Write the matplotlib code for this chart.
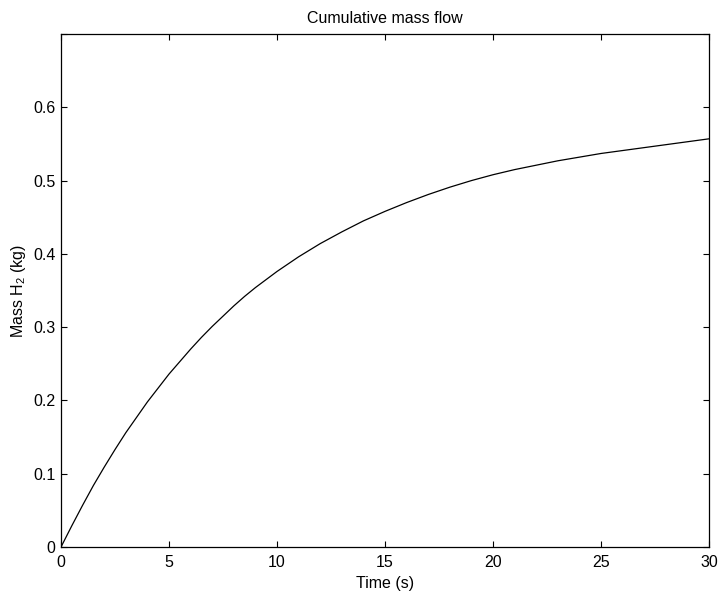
import matplotlib
matplotlib.use("Agg")
import matplotlib.pyplot as plt

# values (half-second steps where it bends most)
time_s = [
    0, 0.5, 1, 1.5, 2, 2.5, 3, 3.5, 4, 4.5, 5, 5.5, 6, 6.5, 7, 7.5, 8, 8.5,
    9, 9.5, 10, 11, 12, 13, 14, 15, 16, 17, 18, 19, 20, 21, 22, 23, 24, 25,
    26, 27, 28, 29, 30,
]
mass_kg = [
    0.000, 0.029, 0.057, 0.084, 0.109, 0.133, 0.156, 0.177, 0.198, 0.217,
    0.236, 0.253, 0.270, 0.286, 0.301, 0.315, 0.329, 0.342, 0.354, 0.365,
    0.376, 0.396, 0.414, 0.430, 0.445, 0.458, 0.470, 0.481, 0.491, 0.500,
    0.508, 0.515, 0.521, 0.527, 0.532, 0.537, 0.541, 0.545, 0.549, 0.553,
    0.557,
]
x_ticks = [0, 5, 10, 15, 20, 25, 30]
y_ticks = [0, 0.1, 0.2, 0.3, 0.4, 0.5, 0.6, 0.7]
y_tick_labels = ["0", "0.1", "0.2", "0.3", "0.4", "0.5", "0.6", ""]

plt.rcParams["font.family"] = ["Liberation Sans", "DejaVu Sans"]
plt.rcParams["font.size"] = 11.5
plt.rcParams["mathtext.fontset"] = "custom"
plt.rcParams["mathtext.rm"] = "Liberation Sans"
plt.rcParams["mathtext.it"] = "Liberation Sans"

fig = plt.figure(figsize=(7.22, 6.0), dpi=100)
ax = fig.add_axes([0.0845, 0.0883, 0.8975, 0.855])

ax.plot(time_s, mass_kg, color="black", linewidth=0.9)

ax.set_xlim(0, 30)
ax.set_ylim(0, 0.7)
ax.set_xticks(x_ticks)
ax.set_yticks(y_ticks)
ax.set_yticklabels(y_tick_labels)

ax.tick_params(direction="in", length=4, width=0.8, top=True, right=True)
ax.tick_params(axis="x", pad=6)
ax.tick_params(axis="y", pad=4)
for spine in ax.spines.values():
    spine.set_linewidth(0.9)

ax.set_title("Cumulative mass flow", pad=8, fontsize=11.5)
ax.set_xlabel("Time (s)", labelpad=4)
ax.set_ylabel("Mass H$_2$ (kg)", labelpad=4)

fig.savefig("out.png", dpi=100)
